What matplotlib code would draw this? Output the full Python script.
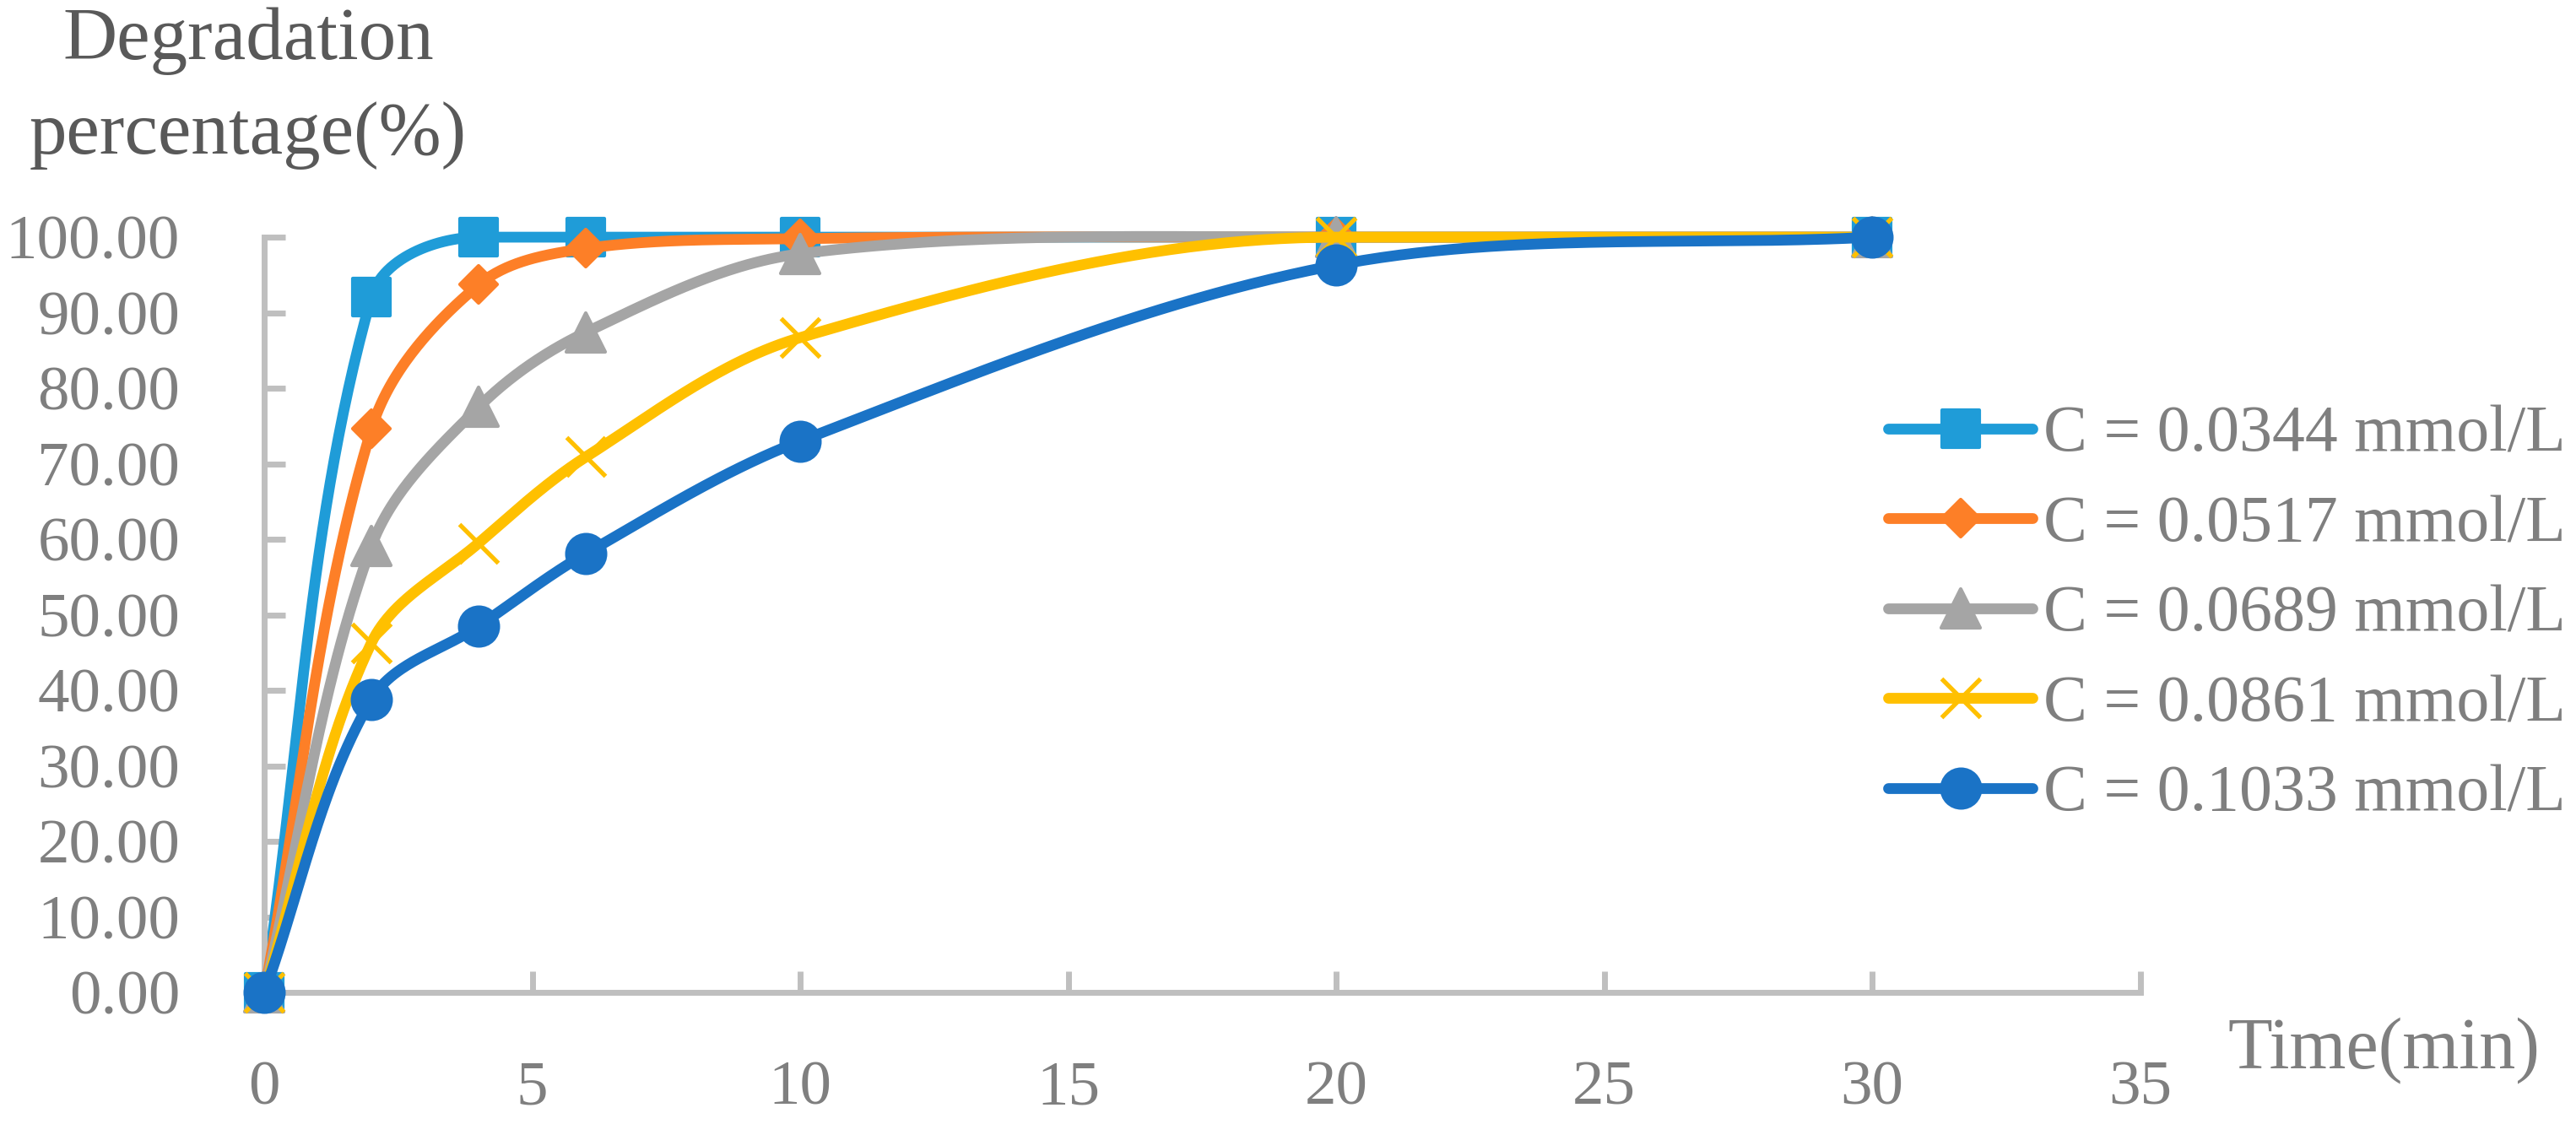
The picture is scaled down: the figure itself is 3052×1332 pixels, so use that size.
import numpy as np
import matplotlib
matplotlib.use("Agg")
import matplotlib.pyplot as plt
from matplotlib.markers import MarkerStyle

# ---- data ----
time_min = [0, 2, 4, 6, 10, 20, 30]
labels = ["C = 0.0344 mmol/L", "C = 0.0517 mmol/L", "C = 0.0689 mmol/L",
          "C = 0.0861 mmol/L", "C = 0.1033 mmol/L"]
c_0344 = [0, 92.1, 100.0, 100.0, 100.0, 100.0, 100.0]
c_0517 = [0, 74.6, 93.7, 98.5, 99.8, 100.0, 100.0]
c_0689 = [0, 59.1, 77.5, 87.4, 97.8, 100.0, 100.0]
c_0861 = [0, 46.3, 59.5, 70.9, 86.7, 100.0, 100.0]
c_1033 = [0, 38.8, 48.5, 58.1, 73.0, 96.3, 100.0]
series = [c_0344, c_0517, c_0689, c_0861, c_1033]
x_ticks = [0, 5, 10, 15, 20, 25, 30, 35]
y_ticks = [0, 10, 20, 30, 40, 50, 60, 70, 80, 90, 100]

colors = ["#1F9CD8", "#FD7F27", "#A5A5A5", "#FFC000", "#1A73C6"]
markers = ["s", "D", "^", "x", "o"]
msizes = [15.5, 11.0, 16.5, 16.5, 16.5]

plt.rcParams['font.family'] = ['Liberation Serif', 'DejaVu Serif']

# axis pixel scales (used only to shape the smoothing curve like Excel does on screen)
SX, SY = 63.5, 8.95


def smooth(xs, ys, n=60):
    """Excel-like smoothed line: cubic Bezier segments through the points."""
    P = np.column_stack([np.asarray(xs, float) * SX, np.asarray(ys, float) * SY])
    m = len(P)
    T = np.zeros_like(P)
    for i in range(m):
        if i == 0:
            d = P[1] - P[0]
        elif i == m - 1:
            d = P[-1] - P[-2]
        else:
            d = P[i + 1] - P[i - 1]
            if (ys[i] - ys[i - 1]) * (ys[i + 1] - ys[i]) <= 0:
                d = np.array([d[0], 0.0])
        T[i] = d / np.hypot(*d)
    out = []
    t = np.linspace(0, 1, n)[:, None]
    for i in range(m - 1):
        p1, p2 = P[i], P[i + 1]
        L = np.hypot(*(p2 - p1))
        c1 = p1 + T[i] * L / 3.0
        c2 = p2 - T[i + 1] * L / 3.0
        seg = ((1 - t) ** 3) * p1 + 3 * ((1 - t) ** 2) * t * c1 + 3 * (1 - t) * t ** 2 * c2 + t ** 3 * p2
        out.append(seg if i == 0 else seg[1:])
    s = np.vstack(out)
    return s[:, 0] / SX, s[:, 1] / SY


fig = plt.figure(figsize=(15.26, 6.66), dpi=200)
ax = fig.add_axes([0.1026, 0.1171, 0.7282, 0.6719])

handles = []
for k, (ys, lab, col, mk, ms) in enumerate(zip(series, labels, colors, markers, msizes)):
    sx, sy = smooth(time_min, ys)
    ax.plot(sx, sy, color=col, lw=4.6, solid_capstyle='round', zorder=2 + 2 * k,
            clip_on=False)
    if mk == 'x':
        mstyle = MarkerStyle('x', capstyle='butt')
        mew = 1.9
    else:
        mstyle = MarkerStyle(mk, joinstyle='round')
        mew = 1.5
    ax.plot(time_min, ys, linestyle='none', marker=mstyle, markersize=ms,
            color=col, markeredgecolor=col, markeredgewidth=mew,
            zorder=3 + 2 * k, clip_on=False)
    h, = ax.plot([], [], color=col, lw=4.6, marker=mstyle, markersize=ms,
                 markeredgecolor=col, markeredgewidth=mew, solid_capstyle='round')
    handles.append(h)

ax.set_xlim(0, 35)
ax.set_ylim(0, 100)
ax.set_xticks(x_ticks)
ax.set_yticks(y_ticks)
ax.set_yticklabels([f"{v:.2f}" for v in y_ticks])
for side in ['top', 'right']:
    ax.spines[side].set_visible(False)
for side in ['left', 'bottom']:
    ax.spines[side].set_color('#BFBFBF')
    ax.spines[side].set_linewidth(2.5)
ax.tick_params(axis='both', direction='in', color='#BFBFBF', width=2.5, length=9,
               labelcolor='#7F7F7F', labelsize=27)
ax.tick_params(axis='x', pad=29)
ax.tick_params(axis='y', pad=36)

fig.text(0.0963, 1 - 70 / 1332, "Degradation", ha='center', va='baseline',
         fontsize=32, color='#595959')
fig.text(0.0963, 1 - 182 / 1332, "percentage(%)", ha='center', va='baseline',
         fontsize=32, color='#595959')
fig.text(0.9253, 1 - 1265 / 1332, "Time(min)", ha='center', va='baseline',
         fontsize=31, color='#7F7F7F')

fig.legend(handles=handles, labels=labels, loc='center left',
           bbox_to_anchor=(0.733, 1 - 729 / 1332), frameon=False, fontsize=28,
           labelcolor='#7F7F7F', handlelength=2.2, handletextpad=0.17,
           labelspacing=0.45, borderaxespad=0, borderpad=0)

fig.savefig("out.png", dpi=200)
